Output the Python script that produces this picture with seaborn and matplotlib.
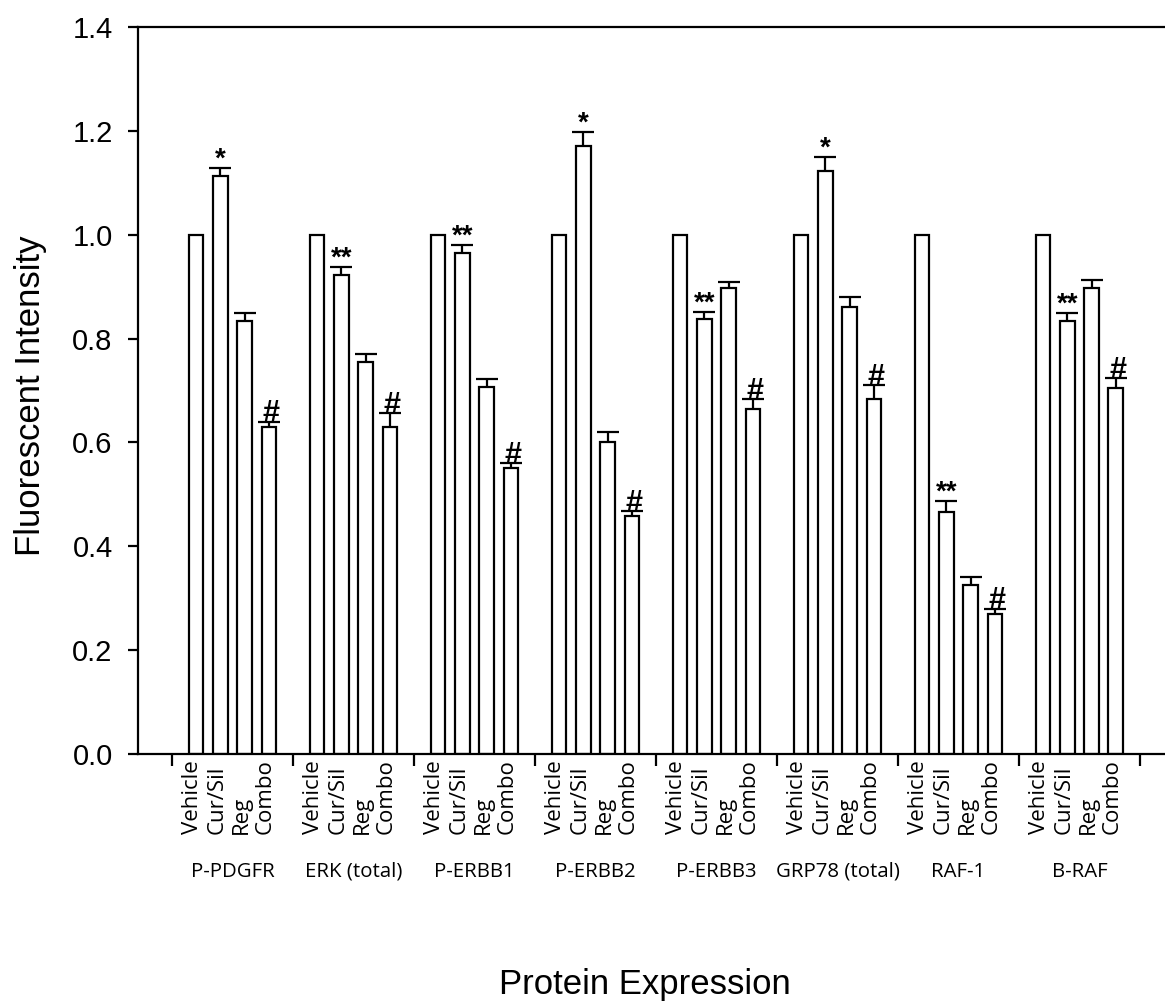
import numpy as np
import pandas as pd
import matplotlib
matplotlib.use("Agg")
import matplotlib.pyplot as plt
import matplotlib.transforms as mtransforms
import seaborn as sns

# ---- data -------------------------------------------------------------
proteins = ["P-PDGFR", "ERK (total)", "P-ERBB1", "P-ERBB2",
            "P-ERBB3", "GRP78 (total)", "RAF-1", "B-RAF"]
treatments = ["Vehicle", "Cur/Sil", "Reg", "Combo"]

vehicle = [1.0, 1.0, 1.0, 1.0, 1.0, 1.0, 1.0, 1.0]
cur_sil = [1.113, 0.923, 0.964, 1.170, 0.837, 1.123, 0.466, 0.834]
reg = [0.834, 0.754, 0.707, 0.601, 0.897, 0.861, 0.325, 0.898]
combo = [0.630, 0.630, 0.550, 0.458, 0.664, 0.684, 0.270, 0.704]

vehicle_err = [0, 0, 0, 0, 0, 0, 0, 0]
cur_sil_err = [0.016, 0.015, 0.016, 0.027, 0.014, 0.026, 0.021, 0.015]
reg_err = [0.015, 0.016, 0.016, 0.019, 0.012, 0.020, 0.016, 0.014]
combo_err = [0.010, 0.027, 0.010, 0.010, 0.020, 0.026, 0.010, 0.020]

cur_sil_sig = ["*", "**", "**", "*", "**", "*", "**", "**"]
combo_sig = ["#", "#", "#", "#", "#", "#", "#", "#"]

y_ticks = [0.0, 0.2, 0.4, 0.6, 0.8, 1.0, 1.2, 1.4]

# ---- table ------------------------------------------------------------
series = {"Vehicle": vehicle, "Cur/Sil": cur_sil, "Reg": reg, "Combo": combo}
errors = {"Vehicle": vehicle_err, "Cur/Sil": cur_sil_err,
          "Reg": reg_err, "Combo": combo_err}
marks = {"Cur/Sil": cur_sil_sig, "Combo": combo_sig}

df = pd.DataFrame(
    [(p, t, series[t][i]) for t in treatments for i, p in enumerate(proteins)],
    columns=["protein", "treatment", "intensity"],
)

# ---- style ------------------------------------------------------------
sns.set_style("ticks")
plt.rcParams["font.family"] = ["Liberation Sans", "DejaVu Sans"]
plt.rcParams.update({
    "text.color": "black", "axes.labelcolor": "black",
    "xtick.color": "black", "ytick.color": "black",
    "axes.edgecolor": "black",
})
LABEL_FONT = ["Open Sans", "DejaVu Sans"]
LW = 1.6

fig = plt.figure(figsize=(11.65, 10.02), dpi=100)
ax = fig.add_axes([138 / 1165, 248 / 1002, 1027 / 1165, 727 / 1002])

sns.barplot(
    data=df, x="protein", y="intensity", hue="treatment",
    order=proteins, hue_order=treatments,
    palette=["white"] * 4, edgecolor="black", linewidth=LW,
    errorbar=None, gap=0.4, width=0.8, legend=False, ax=ax,
)

# upper error bars and significance marks
for t, cont in zip(treatments, ax.containers):
    errs = errors[t]
    for i, bar in enumerate(cont):
        e = errs[i]
        if e <= 0:
            continue
        x = bar.get_x() + bar.get_width() / 2
        y = bar.get_height()
        _, caps, _ = ax.errorbar(
            [x], [y], yerr=[[0], [e]], fmt="none", ecolor="black",
            elinewidth=LW, capsize=7.9, capthick=LW, zorder=3,
        )
        caps[0].set_visible(False)
        if t in marks:
            s = marks[t][i]
            if s == "#":
                ax.annotate(s, (x + 0.02, y + e), xytext=(0, -0.5),
                            textcoords="offset points", ha="center",
                            va="baseline", fontsize=22, fontweight="bold",
                            color="black")
            else:
                ax.annotate(s, (x, y + e), xytext=(0, 1),
                            textcoords="offset points", ha="center",
                            va="baseline", fontsize=20, fontweight="bold",
                            color="black")

# axes limits, ticks and spines
ax.set_ylim(0, 1.4)
ax.set_xlim(-0.781, 7.707)
ax.set_yticks(y_ticks)
ax.set_yticklabels([f"{v:.1f}" for v in y_ticks], fontsize=21)
ax.set_xticks(np.arange(-0.5, len(proteins), 1.0))
ax.set_xticklabels([])
ax.tick_params(axis="y", direction="out", length=7.2, width=LW, pad=11,
               colors="black")
ax.tick_params(axis="x", direction="out", length=8.6, width=LW,
               colors="black")
for side in ("left", "bottom", "top"):
    ax.spines[side].set_visible(True)
    ax.spines[side].set_linewidth(LW)
    ax.spines[side].set_color("black")
ax.spines["right"].set_visible(False)
ax.grid(False)

# treatment labels under each bar and protein names under each group
blend = mtransforms.blended_transform_factory(ax.transData, ax.transAxes)
for t, cont in zip(treatments, ax.containers):
    for bar in cont:
        x = bar.get_x() + bar.get_width() / 2
        ax.text(x - 0.03, -0.110, t, rotation=90, ha="center", va="bottom",
                transform=blend, fontsize=16, family=LABEL_FONT,
                color="black")
for i, p in enumerate(proteins):
    ax.text(i, -0.1623, p, ha="center", va="center", transform=blend,
            fontsize=14.7, family=LABEL_FONT, color="black")

ax.set_xlabel("Protein Expression", fontsize=25, color="black")
ax.xaxis.label.set_va("center")
ax.xaxis.set_label_coords(0.4937, -0.3177)
ax.set_ylabel("Fluorescent Intensity", fontsize=25, color="black")
ax.yaxis.label.set_va("center")
ax.yaxis.set_label_coords(-0.105, 0.4924)

fig.savefig("out.png", dpi=100)
